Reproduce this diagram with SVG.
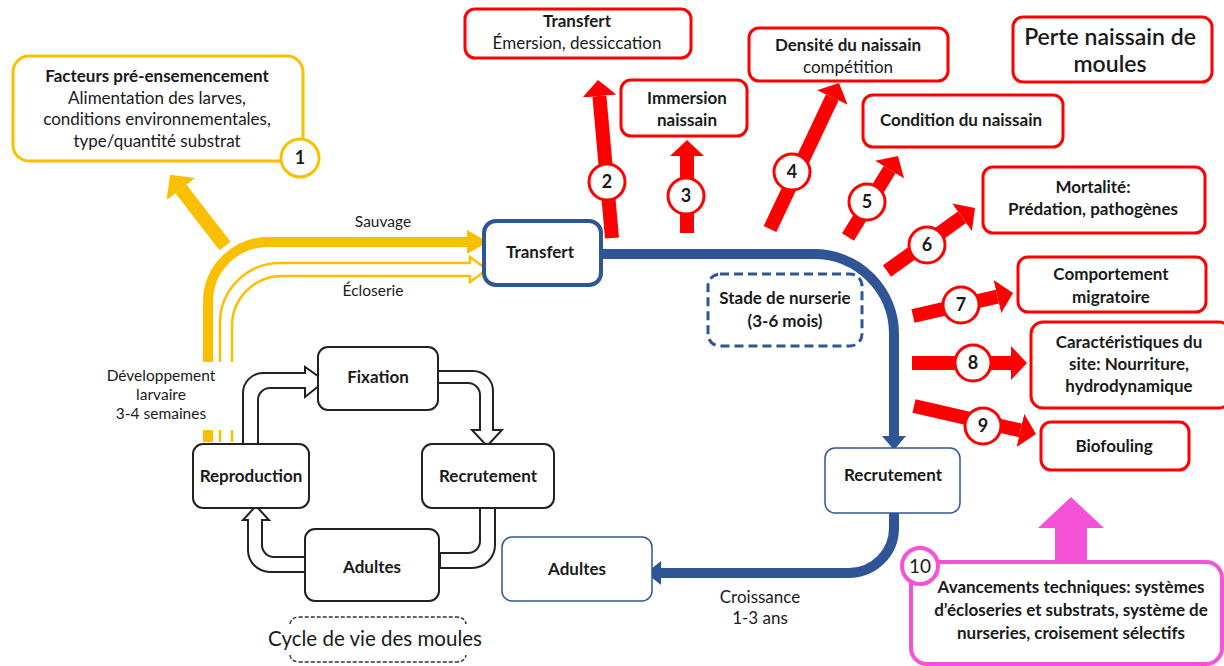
<svg xmlns="http://www.w3.org/2000/svg" width="1224" height="666" viewBox="0 0 1224 666">
<defs>
<style>
text{font-family:Lato,"Open Sans","Liberation Sans",sans-serif;fill:#1a1a1a;text-anchor:middle}
.t{font-size:17px}
.b{font-size:17px;font-weight:700}
.s{font-size:15.5px}
.num{font-size:18px;font-weight:700}
.rbox{fill:#fff;stroke:#f00;stroke-width:3}
.rcirc{fill:#fff;stroke:#f00;stroke-width:3}
.rarrow{stroke:#f00;stroke-width:14;fill:none}
.kbox{fill:#fff;stroke:#222;stroke-width:2}
.khollow{fill:#fff;stroke:#222;stroke-width:2;stroke-linejoin:miter}
.bbox{fill:#fff;stroke:#2f5597;stroke-width:1.5}
</style>
<marker id="rh" markerUnits="userSpaceOnUse" markerWidth="16" markerHeight="34" viewBox="0 0 16 34" refX="0" refY="17" orient="auto">
<path d="M0,0 L16,17 L0,34 z" fill="#f00"/>
</marker>
<marker id="yh" markerUnits="userSpaceOnUse" markerWidth="18" markerHeight="36" viewBox="0 0 18 36" refX="0" refY="18" orient="auto">
<path d="M0,0 L18,18 L0,36 z" fill="#fac000"/>
</marker>
</defs>
<rect width="1224" height="666" fill="#fff"/>

<g id="connectors">
<line x1="225" y1="246" x2="181" y2="189" stroke="#fac000" stroke-width="14" marker-end="url(#yh)"/>
<path d="M208,442 V302 A60,60 0 0 1 268,242 H469" fill="none" stroke="#fac000" stroke-width="10"/>
<polygon points="467,230 488,242 467,254" fill="#fac000"/>
<path d="M220,442 V323 A60,60 0 0 1 280,263 H470 V257 L487,269.5 L470,282 V276 H282 A50,50 0 0 0 232,326 V442" fill="none" stroke="#fac000" stroke-width="2.5"/>
<rect x="96" y="362" width="142" height="68" fill="#fff"/>
<path d="M600,254 H814 A80,80 0 0 1 894,334 V437" fill="none" stroke="#2f5597" stroke-width="10"/>
<polygon points="882,436 906,436 894,450" fill="#2f5597"/>
<path d="M894,512 V528 A45,45 0 0 1 849,573 H660" fill="none" stroke="#2f5597" stroke-width="10"/>
<polygon points="661,561 661,585 646,573" fill="#2f5597"/>
<line class="rarrow" x1="612" y1="238" x2="599.4" y2="96" marker-end="url(#rh)"/>
<line class="rarrow" x1="687" y1="233" x2="687" y2="156" marker-end="url(#rh)"/>
<line class="rarrow" x1="770" y1="229" x2="832.2" y2="97.5" marker-end="url(#rh)"/>
<line class="rarrow" x1="848" y1="237" x2="889.6" y2="169.6" marker-end="url(#rh)"/>
<line class="rarrow" x1="887" y1="271" x2="962" y2="217.3" marker-end="url(#rh)"/>
<line class="rarrow" x1="913" y1="316" x2="997.4" y2="296.6" marker-end="url(#rh)"/>
<line class="rarrow" x1="912" y1="363" x2="1011" y2="363" marker-end="url(#rh)"/>
<line class="rarrow" x1="914" y1="406" x2="1020.4" y2="430.4" marker-end="url(#rh)"/>
<polygon points="1055,563 1055,528 1038,528 1071,497 1104,528 1087,528 1087,563" fill="#f552d8"/>
<path class="khollow" d="M243,444 V393 A20,20 0 0 1 263,373 H305 V367 L325,381 L305,397 V388 H270 A12,12 0 0 0 258,400 V444"/>
<path class="khollow" d="M437,371 H473 A20,20 0 0 1 493,391 V430 H502 L487,446 L472,430 H480 V395 A12,12 0 0 0 468,383 H437"/>
<path class="khollow" d="M480,508 V541 A12,12 0 0 1 468,553 H440 V568 H472 A23,23 0 0 0 495,545 V508"/>
<path class="khollow" d="M305,557 H274 A12,12 0 0 1 262,545 V520 H269 L256,506 L243,520 H248 V550 A22,22 0 0 0 270,572 H305"/>
</g>

<g id="n1">
<rect x="13" y="56" width="290" height="105" rx="16" fill="#fff" stroke="#fac000" stroke-width="3"/>
<text class="b" x="157" y="82">Facteurs pré-ensemencement</text>
<text class="t" x="157" y="104">Alimentation des larves,</text>
<text class="t" x="157" y="125">conditions environnementales,</text>
<text class="t" x="157" y="147">type/quantité substrat</text>
<circle cx="300" cy="158" r="19" fill="#fff" stroke="#fac000" stroke-width="3"/>
<text class="num" x="300" y="164">1</text>
</g>

<g id="labels-yellow">
<text class="s" x="383" y="227">Sauvage</text>
<text class="s" x="373" y="296">Écloserie</text>
<text class="s" x="161" y="381">Développement</text>
<text class="s" x="161" y="400">larvaire</text>
<text class="s" x="161" y="419">3-4 semaines</text>
</g>

<g id="transfert">
<rect x="484" y="221" width="117" height="64" rx="12" fill="#fff" stroke="#2f5597" stroke-width="4"/>
<text class="b" x="540" y="258">Transfert</text>
</g>

<g id="nurserie">
<rect x="708" y="274" width="154" height="72" rx="12" fill="#fff" stroke="#2f5597" stroke-width="3" stroke-dasharray="9 5"/>
<text class="b" x="785" y="304">Stade de nurserie</text>
<text class="b" x="785" y="327">(3-6 mois)</text>
</g>

<g id="recrutement-blue">
<rect x="825" y="448" width="135" height="65" rx="10" class="bbox"/>
<text class="b" x="893" y="481">Recrutement</text>
</g>

<g id="adultes-blue">
<rect x="502" y="537" width="150" height="64" rx="10" class="bbox"/>
<text class="b" x="577" y="575">Adultes</text>
</g>

<g id="croissance">
<text class="t" x="760" y="603">Croissance</text>
<text class="t" x="760" y="624">1-3 ans</text>
</g>

<g id="fixation">
<rect x="318" y="347" width="120" height="63" rx="10" class="kbox"/>
<text class="b" x="378" y="383">Fixation</text>
</g>
<g id="reproduction">
<rect x="193" y="444" width="116" height="64" rx="10" class="kbox"/>
<text class="b" x="251" y="482">Reproduction</text>
</g>
<g id="recrutement-black">
<rect x="422" y="444" width="132" height="64" rx="10" class="kbox"/>
<text class="b" x="488" y="482">Recrutement</text>
</g>
<g id="adultes-black">
<rect x="305" y="529" width="134" height="72" rx="10" class="kbox"/>
<text class="b" x="372" y="573">Adultes</text>
</g>

<g id="cycle-title">
<path d="M290,624 Q291,617 300,617 H456 Q465,617 466,624" fill="none" stroke="#333" stroke-width="1.5" stroke-dasharray="4 2"/>
<path d="M290,655 Q291,662 300,662 H456 Q465,662 466,655" fill="none" stroke="#333" stroke-width="1.5" stroke-dasharray="4 2"/>
<text x="375" y="646" style="font-size:20.5px">Cycle de vie des moules</text>
</g>

<g id="n2">
<rect x="465" y="9" width="226" height="49" rx="10" class="rbox"/>
<text class="b" x="577" y="27">Transfert</text>
<text class="t" x="577" y="49">Émersion, dessiccation</text>
<circle cx="607" cy="182" r="18" class="rcirc"/>
<text class="num" x="607" y="188">2</text>
</g>
<g id="n3">
<rect x="621" y="80" width="126" height="56" rx="10" class="rbox"/>
<text class="b" x="687" y="104">Immersion</text>
<text class="b" x="687" y="126">naissain</text>
<circle cx="686" cy="196" r="18" class="rcirc"/>
<text class="num" x="686" y="202">3</text>
</g>
<g id="n4">
<rect x="749" y="28" width="199" height="53" rx="10" class="rbox"/>
<text class="b" x="848" y="51">Densité du naissain</text>
<text class="t" x="848" y="73">compétition</text>
<circle cx="792" cy="172" r="18" class="rcirc"/>
<text class="num" x="792" y="178">4</text>
</g>
<g id="titre">
<rect x="1013" y="17" width="199" height="65" rx="10" class="rbox"/>
<text x="1110" y="45" style="font-size:23px;font-weight:600">Perte naissain de</text>
<text x="1110" y="72" style="font-size:23px;font-weight:600">moules</text>
</g>
<g id="n5">
<rect x="863" y="95" width="200" height="52" rx="10" class="rbox"/>
<text class="b" x="961" y="126">Condition du naissain</text>
<circle cx="867" cy="202" r="18" class="rcirc"/>
<text class="num" x="867" y="208">5</text>
</g>
<g id="n6">
<rect x="983" y="167" width="222" height="66" rx="10" class="rbox"/>
<text class="b" x="1093" y="193">Mortalité:</text>
<text class="b" x="1093" y="215">Prédation, pathogènes</text>
<circle cx="927" cy="245" r="18" class="rcirc"/>
<text class="num" x="927" y="251">6</text>
</g>
<g id="n7">
<rect x="1018" y="257" width="188" height="55" rx="10" class="rbox"/>
<text class="b" x="1111" y="280">Comportement</text>
<text class="b" x="1111" y="303">migratoire</text>
<circle cx="961" cy="305" r="18" class="rcirc"/>
<text class="num" x="961" y="311">7</text>
</g>
<g id="n8">
<rect x="1031" y="322" width="200" height="86" rx="12" class="rbox"/>
<text class="b" x="1129" y="348">Caractéristiques du</text>
<text class="b" x="1129" y="370">site: Nourriture,</text>
<text class="b" x="1129" y="392">hydrodynamique</text>
<circle cx="973" cy="363" r="18" class="rcirc"/>
<text class="num" x="973" y="369">8</text>
</g>
<g id="n9">
<rect x="1041" y="422" width="148" height="48" rx="10" class="rbox"/>
<text class="b" x="1114" y="452">Biofouling</text>
<circle cx="983" cy="426" r="18" class="rcirc"/>
<text class="num" x="983" y="432">9</text>
</g>
<g id="n10">
<rect x="911" y="562" width="311" height="102" rx="16" fill="#fff" stroke="#f552d8" stroke-width="4"/>
<circle cx="920" cy="566" r="18" fill="#fff" stroke="#f552d8" stroke-width="4"/>
<text x="920" y="573" style="font-size:19px">10</text>
<text class="b" x="1071" y="593">Avancements techniques: systèmes</text>
<text class="b" x="1071" y="616">d’écloseries et substrats, système de</text>
<text class="b" x="1071" y="639">nurseries, croisement sélectifs</text>
</g>
</svg>
